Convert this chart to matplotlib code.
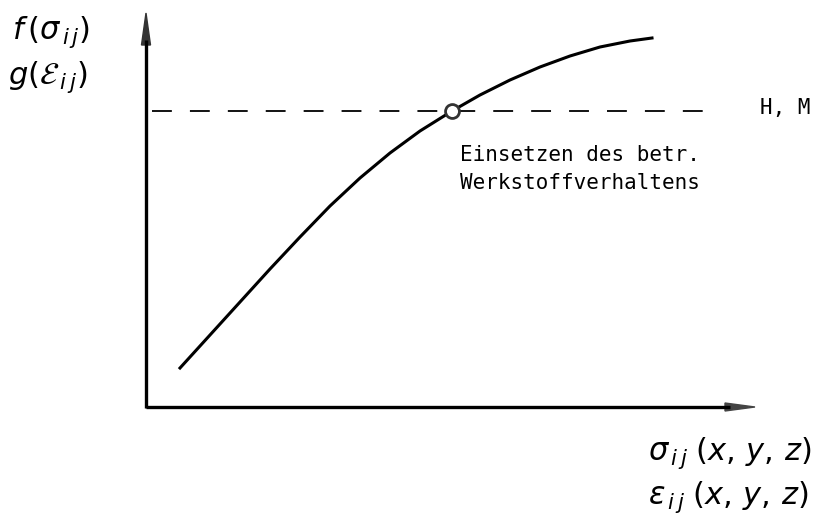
import matplotlib.pyplot as plt
from matplotlib.patches import FancyArrow

# schematic, pixel-like coordinates (y downward)
curve_x = [180, 210, 240, 270, 300, 330, 360, 390, 420, 452, 480, 510, 540, 570, 600, 630, 652]
curve_y = [368, 335, 302, 269, 237, 206, 178, 153, 131, 111, 95, 80, 67, 56, 47, 41, 38]
level_y = 111
cross_x = 452

fig = plt.figure(figsize=(8.15, 5.24), dpi=100)
ax = fig.add_axes([0, 0, 1, 1])
ax.set_xlim(0, 815)
ax.set_ylim(524, 0)
ax.axis('off')

ox, oy = 146, 407
# axes with arrows
ax.plot([ox, ox], [oy + 1, 40], color='black', lw=2.4, solid_capstyle='butt')
ax.add_patch(FancyArrow(ox, 46, 0, -33, width=0.5, head_width=9, head_length=32,
                        length_includes_head=True, color='#333333'))
ax.plot([ox, 730], [oy, oy], color='black', lw=2.4, solid_capstyle='butt')
ax.add_patch(FancyArrow(720, oy, 35, 0, width=0.5, head_width=8, head_length=30,
                        length_includes_head=True, color='#444444'))

# dashed level
ax.plot([152, 705], [level_y, level_y], color='black', lw=1.3, dashes=(11, 10))

# curve
ax.plot(curve_x, curve_y, color='black', lw=2.2, solid_joinstyle='round')
ax.plot([cross_x], [level_y], marker='o', ms=10, mfc='white', mec='#333333', mew=2)

mono = dict(fontsize=15, family='DejaVu Sans Mono', va='center', ha='left')
ax.text(760, 108, 'H, M', **mono)
ax.text(460, 155, 'Einsetzen des betr.', **mono)
ax.text(460, 183, 'Werkstoffverhaltens', **mono)

hand = dict(fontsize=22, color='black', ha='left', va='center')
ax.text(12, 32, r'$f\,(\sigma_{\,i\,j})$', **hand)
ax.text(8, 77, r'$g(\mathcal{E}_{\,i\,j})$', **hand)
ax.text(648, 453, r'$\sigma_{\,i\,j}\;(x,\,y,\,z)$', **hand)
ax.text(648, 497, r'$\epsilon_{\,i\,j}\;(x,\,y,\,z)$', **hand)

fig.savefig('out.png', dpi=100)
